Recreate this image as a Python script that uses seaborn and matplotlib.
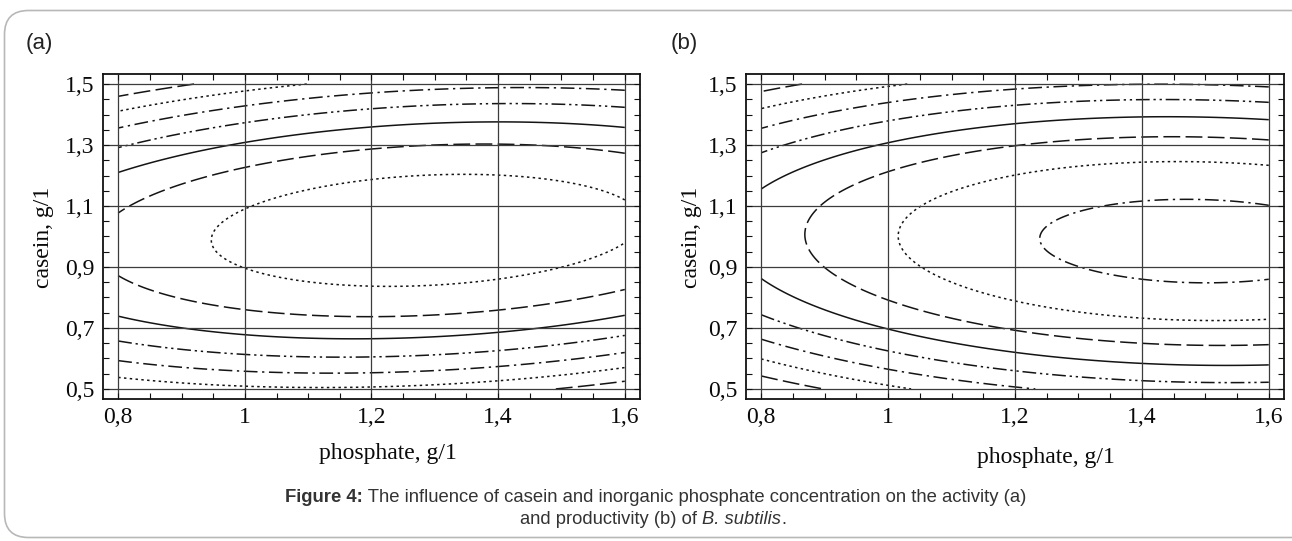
import numpy as np
import matplotlib
matplotlib.use("Agg")
import matplotlib.pyplot as plt
import seaborn as sns
from matplotlib.patches import FancyBboxPatch
from matplotlib.ticker import FixedLocator, MultipleLocator

# ---------------- data ----------------
phosphate_ticks = [0.8, 1.0, 1.2, 1.4, 1.6]
phosphate_labels = ["0,8", "1", "1,2", "1,4", "1,6"]
casein_ticks = [0.5, 0.7, 0.9, 1.1, 1.3, 1.5]
casein_labels = ["0,5", "0,7", "0,9", "1,1", "1,3", "1,5"]
phosphate_range = [0.8, 1.6]
casein_range = [0.5, 1.5]

# fitted response-surface models:
# Z = c + b*t + a*t^2 - (casein - y0 - g*t)^2 / s ,  t = phosphate - 1.2
activity_ridge = [0.68, 1.094, -6.30]        # c, b, a
activity_center = [1.012, 0.094]             # y0, g
activity_scale = 0.045                       # s
activity_levels = [-6, -5, -4, -3, -2, -1, 0]
activity_styles = ["longdash", "dotted", "dashdot", "dashdotdot",
                   "solid", "longdash", "dotted"]

productivity_ridge = [-0.13, 3.575, -6.25]
productivity_center = [0.995, -0.035]
productivity_scale = 0.049
productivity_levels = [-7, -6, -5, -4, -3, -2, -1, 0]
productivity_styles = ["longdash", "dotted", "dashdot", "dashdotdot",
                       "solid", "longdash", "dotted", "dashdot"]

panel_tags = ["(a)", "(b)"]
x_label = "phosphate, g/1"
y_label = "casein, g/1"
caption_line1 = [("Figure 4:", "bold", "normal"),
                 (" The influence of casein and inorganic phosphate concentration on the activity (a)", "normal", "normal")]
caption_line2 = [("and productivity (b) of ", "normal", "normal"),
                 ("B. subtilis", "normal", "italic"),
                 (".", "normal", "normal")]

# ---------------- style ----------------
sns.set_theme(style="ticks")
plt.rcParams["font.family"] = ["Liberation Serif", "DejaVu Serif"]

DASHES = {
    "solid": "solid",
    "longdash": (0, (11, 3.5)),
    "dotted": (0, (1.6, 2.2)),
    "dashdot": (0, (9, 3, 1.5, 3)),
    "dashdotdot": (0, (9, 2.5, 1.5, 2.5, 1.5, 2.5)),
}

W, H = 1292, 541
fig = plt.figure(figsize=(W / 100, H / 100), dpi=100)
fig.patch.set_facecolor("white")

# outer rounded frame
bg = fig.add_axes([0, 0, 1, 1])
bg.set_xlim(0, W)
bg.set_ylim(H, 0)
bg.axis("off")
bg.add_patch(FancyBboxPatch((4.5, 10.5), 1400, 527,
                            boxstyle="round,pad=0,rounding_size=24",
                            fc="none", ec="#b8b8b8", lw=1.2))

xs = np.linspace(phosphate_range[0], phosphate_range[1], 241)
ys = np.linspace(casein_range[0], casein_range[1], 301)
X, Y = np.meshgrid(xs, ys)


def surface(ridge, center, scale):
    t = X - 1.2
    c, b, a = ridge
    y0, g = center
    return c + b * t + a * t ** 2 - (Y - y0 - g * t) ** 2 / scale


panels = [
    dict(rect=[103 / W, 1 - 399 / H, 537 / W, 325 / H],
         Z=surface(activity_ridge, activity_center, activity_scale),
         levels=activity_levels, styles=activity_styles,
         xl=((388 - 103) / 537, (399 - 454) / 325),
         yl=((44 - 103) / 537, (399 - 237) / 325),
         tag=(39, 44)),
    dict(rect=[746 / W, 1 - 399 / H, 538 / W, 325 / H],
         Z=surface(productivity_ridge, productivity_center, productivity_scale),
         levels=productivity_levels, styles=productivity_styles,
         xl=((1046 - 746) / 538, (399 - 457) / 325),
         yl=((691 - 746) / 538, (399 - 237) / 325),
         tag=(684, 44)),
]

for p, tag in zip(panels, panel_tags):
    ax = fig.add_axes(p["rect"])
    ax.set_facecolor("white")
    ax.contour(X, Y, p["Z"], levels=p["levels"], colors="#141414",
               linewidths=1.1, linestyles=[DASHES[s] for s in p["styles"]])
    ax.set_xlim(0.776, 1.624)
    ax.set_ylim(0.467, 1.533)
    ax.xaxis.set_major_locator(FixedLocator(phosphate_ticks))
    ax.set_xticklabels(phosphate_labels)
    ax.yaxis.set_major_locator(FixedLocator(casein_ticks))
    ax.set_yticklabels(casein_labels)
    ax.xaxis.set_minor_locator(MultipleLocator(0.05))
    ax.yaxis.set_minor_locator(MultipleLocator(0.05))
    ax.grid(True, which="major", color="#3c3c3c", lw=0.9)
    ax.set_axisbelow(False)
    ax.tick_params(which="both", direction="in", top=True, right=True,
                   width=0.8, color="#111", labelsize=17, labelcolor="#0a0a0a")
    ax.tick_params(which="major", length=4, pad=6)
    ax.tick_params(which="minor", length=4)
    for sp in ax.spines.values():
        sp.set_visible(True)
        sp.set_color("#111")
        sp.set_linewidth(1.3)
    ax.set_xlabel(x_label, fontsize=17, color="#0a0a0a", va="center")
    ax.set_ylabel(y_label, fontsize=17, color="#0a0a0a", va="center")
    ax.xaxis.set_label_coords(*p["xl"])
    ax.yaxis.set_label_coords(*p["yl"])
    bg.text(p["tag"][0], p["tag"][1], tag, ha="center", va="center",
            fontsize=16, family=["Liberation Sans", "DejaVu Sans"], color="#222")

# caption with mixed styles, centered
renderer = fig.canvas.get_renderer()


def centered_line(parts, cx, cy, size):
    objs = []
    for txt, weight, style in parts:
        t = bg.text(0, cy, txt, ha="left", va="center", fontsize=size,
                    fontweight=weight, fontstyle=style,
                    family=["Liberation Sans", "DejaVu Sans"], color="#333")
        objs.append(t)
    widths = [o.get_window_extent(renderer).width for o in objs]
    x = cx - sum(widths) / 2
    for o, w in zip(objs, widths):
        o.set_x(x)
        x += w


centered_line(caption_line1, 656, 497, 13.3)
centered_line(caption_line2, 653, 519, 13.2)

fig.savefig("out.png", dpi=100, facecolor="white")
